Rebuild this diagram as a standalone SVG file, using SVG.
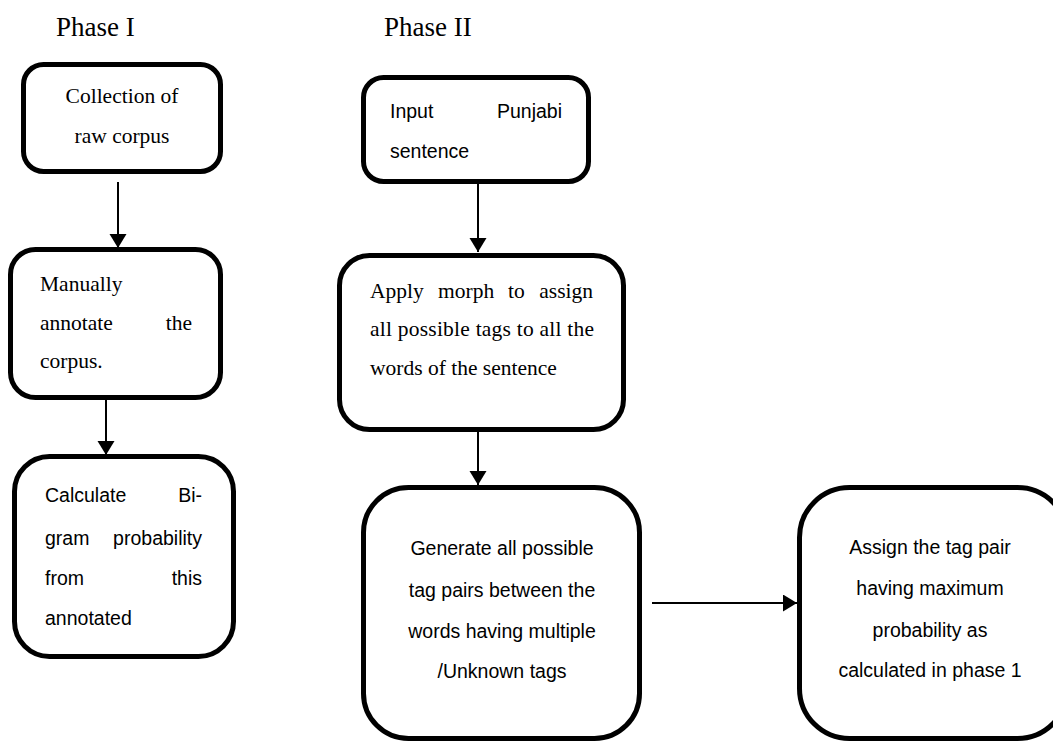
<svg xmlns="http://www.w3.org/2000/svg" width="1053" height="742" viewBox="0 0 1053 742">
<style>
.box{fill:#fff;stroke:#000;stroke-width:5}
.serif{font-family:"Liberation Serif","Times New Roman",serif;font-size:21.5px;fill:#000}
.sans{font-family:"Liberation Sans",Arial,sans-serif;font-size:19.5px;fill:#000}
.head{font-family:"Liberation Serif","Times New Roman",serif;font-size:27px;fill:#000}
.c{text-anchor:middle}
.e{text-anchor:end}
.conn{stroke:#000;stroke-width:2;fill:none}
</style>
<defs>
<marker id="arr" markerUnits="userSpaceOnUse" markerWidth="15" markerHeight="18" refX="14" refY="8.5" orient="auto">
<path d="M0,0 L14,8.5 L0,17 z" fill="#000"/>
</marker>
</defs>
<rect width="1053" height="742" fill="#fff"/>
<text class="head" x="56" y="36">Phase I</text>
<text class="head" x="384" y="36">Phase II</text>

<g id="n1">
<rect class="box" x="23.5" y="64.5" width="197" height="107" rx="20"/>
<text class="serif c" x="122" y="103">Collection of</text>
<text class="serif c" x="122" y="143">raw corpus</text>
</g>
<g id="n2">
<rect class="box" x="10.5" y="249.5" width="210" height="148" rx="25"/>
<text class="serif" x="40" y="291">Manually</text>
<text class="serif" x="40" y="330">annotate</text>
<text class="serif e" x="192" y="330">the</text>
<text class="serif" x="40" y="368">corpus.</text>
</g>
<g id="n3">
<rect class="box" x="14.5" y="456.5" width="219" height="200" rx="35"/>
<text class="sans" x="45" y="502">Calculate</text>
<text class="sans e" x="202" y="502">Bi-</text>
<text class="sans" x="45" y="545">gram</text>
<text class="sans e" x="202" y="545">probability</text>
<text class="sans" x="45" y="585">from</text>
<text class="sans e" x="202" y="585">this</text>
<text class="sans" x="45" y="625">annotated</text>
</g>
<g id="n4">
<rect class="box" x="363.5" y="77.5" width="225" height="104" rx="20"/>
<text class="sans" x="390" y="118">Input</text>
<text class="sans e" x="562" y="118">Punjabi</text>
<text class="sans" x="390" y="158">sentence</text>
</g>
<g id="n5">
<rect class="box" x="339.5" y="255.5" width="284" height="174" rx="30"/>
<text class="serif" x="370" y="298">Apply</text>
<text class="serif" x="438" y="298">morph</text>
<text class="serif" x="508" y="298">to</text>
<text class="serif e" x="593" y="298">assign</text>
<text class="serif" x="370" y="336" textLength="224" lengthAdjust="spacing">all possible tags to all the</text>
<text class="serif" x="370" y="375">words of the sentence</text>
</g>
<g id="n6">
<rect class="box" x="363.5" y="487.5" width="276" height="251" rx="45"/>
<text class="sans c" x="502" y="555">Generate all possible</text>
<text class="sans c" x="502" y="597">tag pairs between the</text>
<text class="sans c" x="502" y="638">words having multiple</text>
<text class="sans c" x="502" y="678">/Unknown tags</text>
</g>
<g id="n7">
<rect class="box" x="799.5" y="487.5" width="268" height="251" rx="50"/>
<text class="sans c" x="930" y="554">Assign the tag pair</text>
<text class="sans c" x="930" y="595">having maximum</text>
<text class="sans c" x="930" y="637">probability as</text>
<text class="sans c" x="930" y="677">calculated in phase 1</text>
</g>

<g id="connectors">
<line class="conn" x1="118" y1="182" x2="118" y2="248" marker-end="url(#arr)"/>
<line class="conn" x1="106" y1="400" x2="106" y2="455" marker-end="url(#arr)"/>
<line class="conn" x1="478" y1="184" x2="478" y2="252" marker-end="url(#arr)"/>
<line class="conn" x1="478" y1="432" x2="478" y2="485" marker-end="url(#arr)"/>
<line class="conn" x1="652" y1="603" x2="797" y2="603" marker-end="url(#arr)"/>
</g>
</svg>
